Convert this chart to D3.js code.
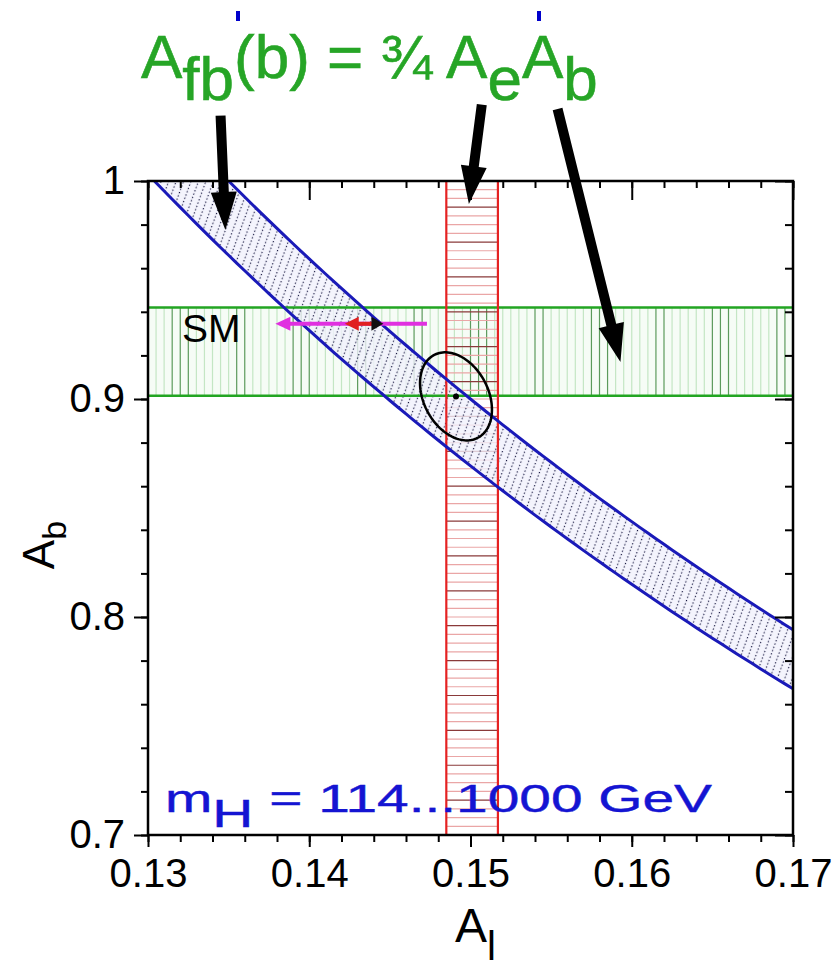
<!DOCTYPE html>
<html>
<head>
<meta charset="utf-8">
<style>
body { margin: 0; background: #fff; }
svg { display: block; font-family: "Liberation Sans", Arial, Helvetica, sans-serif; }
</style>
</head>
<body>
<svg width="840" height="974"></svg>
<script src="https://cdn.jsdelivr.net/npm/d3@7/dist/d3.min.js"></script>
<script>
var abBand = [0.9015, 0.942];       // A_b (green band)
var alBand = [0.1485, 0.1517];      // A_l (red band)
var afbBand = [0.0978, 0.10125];    // A_fb(b) = 3/4 A_l A_b (blue band)
var fitCenter = [0.1491, 0.9012];   // combined fit
var fitSigma = [0.00223, 0.0202];
var fitRho = -0.3;
var smAb = 0.9345;                  // SM prediction arrows
var smMagenta = [0.1473, 0.1379];
var smRed = [0.1443, 0.1422];
var smBlackTip = 0.1446;

var xMajor = [0.13, 0.14, 0.15, 0.16, 0.17];
var xLabels = ["0.13", "0.14", "0.15", "0.16", "0.17"];
var yMajor = [0.7, 0.8, 0.9, 1.0];
var yLabels = ["0.7", "0.8", "0.9", "1"];

// annotation arrows from the title down into the plot (data units)
var pointers = [
  {from: [0.1345, 1.030], to: [0.1348, 0.9775]},
  {from: [0.1507, 1.035], to: [0.1499, 0.9894]},
  {from: [0.1554, 1.033], to: [0.1593, 0.9170]}
];

var pL = 148, pR = 793, pT = 181, pB = 835;
var x = d3.scaleLinear().domain([0.13, 0.17]).range([pL, pR]);
var y = d3.scaleLinear().domain([0.7, 1.0]).range([pB, pT]);

var svg = d3.select("svg");
var defs = svg.append("defs");
defs.append("clipPath").attr("id", "plot")
  .append("rect").attr("x", pL).attr("y", pT)
  .attr("width", pR - pL).attr("height", pB - pT);

var pat = defs.append("pattern").attr("id", "dots")
  .attr("patternUnits", "userSpaceOnUse")
  .attr("width", 7).attr("height", 7)
  .attr("patternTransform", "rotate(20)");
pat.append("line").attr("x1", 3.5).attr("y1", 0).attr("x2", 3.5).attr("y2", 7)
  .attr("stroke", "#10103a").attr("stroke-width", 1.2)
  .attr("stroke-dasharray", "1.2 2.3");

var g = svg.append("g").attr("clip-path", "url(#plot)");

// green band: A_b
g.append("rect")
  .attr("x", pL).attr("width", pR - pL)
  .attr("y", y(abBand[1])).attr("height", y(abBand[0]) - y(abBand[1]))
  .attr("fill", "#f6fcf6");
var greenHatch = d3.range(0.13, 0.1701, 0.0005);
g.selectAll(".gh").data(greenHatch).enter().append("line")
  .attr("x1", function(d){ return x(d); }).attr("x2", function(d){ return x(d); })
  .attr("y1", y(abBand[1])).attr("y2", y(abBand[0]))
  .attr("stroke", function(d){
    var m = (x(d) - pL) % 60;
    return (m > 22 && m < 42) ? "#5c9a5c" : "#c4e6c4";
  })
  .attr("stroke-width", 1.2);

// red band: A_l
var redHatch = d3.range(0.7, 1.0001, 0.004);
g.selectAll(".rh").data(redHatch).enter().append("line")
  .attr("x1", x(alBand[0])).attr("x2", x(alBand[1]))
  .attr("y1", function(d){ return y(d); }).attr("y2", function(d){ return y(d); })
  .attr("stroke", function(d, i){ return i % 4 === 0 ? "#8a3a3a" : "#eaa6a6"; })
  .attr("stroke-width", 1.2);

// blue band: A_fb(b)
var alGrid = d3.range(0.1295, 0.1706, 0.0005);
function abOf(afb, al) { return afb / (0.75 * al); }
var area = d3.area()
  .x(function(d){ return x(d); })
  .y0(function(d){ return y(abOf(afbBand[0], d)); })
  .y1(function(d){ return y(abOf(afbBand[1], d)); });
g.append("path").datum(alGrid).attr("d", area).attr("fill", "#f1f1fd").attr("fill-opacity", 0.8);
g.append("path").datum(alGrid).attr("d", area).attr("fill", "url(#dots)");

// green band edges
abBand.forEach(function(v){
  g.append("line").attr("x1", pL).attr("x2", pR)
    .attr("y1", y(v)).attr("y2", y(v))
    .attr("stroke", "#22a522").attr("stroke-width", 2.5);
});
// red band edges
alBand.forEach(function(v){
  g.append("line").attr("x1", x(v)).attr("x2", x(v))
    .attr("y1", pT).attr("y2", pB)
    .attr("stroke", "#e52222").attr("stroke-width", 2.2);
});
// blue band edges
afbBand.forEach(function(afb){
  g.append("path").datum(alGrid)
    .attr("d", d3.line().x(function(d){ return x(d); }).y(function(d){ return y(abOf(afb, d)); }))
    .attr("fill", "none").attr("stroke", "#1a1ab8").attr("stroke-width", 3);
});

// SM prediction arrows
function headPts(tipX, tipY, dir, len, half) {
  return [[tipX, tipY], [tipX - dir * len, tipY - half], [tipX - dir * len, tipY + half]];
}
var sy = y(smAb);
g.append("line").attr("x1", x(smMagenta[0])).attr("x2", x(smMagenta[1]) + 10)
  .attr("y1", sy).attr("y2", sy).attr("stroke", "#e030e0").attr("stroke-width", 4);
g.append("polygon").attr("points", headPts(x(smMagenta[1]), sy, -1, 15, 7).join(" "))
  .attr("fill", "#e030e0");
g.append("line").attr("x1", x(smRed[0])).attr("x2", x(smRed[1]) + 8)
  .attr("y1", sy).attr("y2", sy).attr("stroke", "#e02020").attr("stroke-width", 4);
g.append("polygon").attr("points", headPts(x(smRed[1]), sy, -1, 14, 7).join(" "))
  .attr("fill", "#e02020");
g.append("polygon").attr("points", headPts(x(smBlackTip), sy, 1, 12, 7).join(" "))
  .attr("fill", "#111");

// fit ellipse
var ts = d3.range(0, 2 * Math.PI + 0.01, 0.05);
var ell = ts.map(function(t){
  var ax = fitCenter[0] + fitSigma[0] * Math.cos(t);
  var ay = fitCenter[1] + fitSigma[1] * (fitRho * Math.cos(t) + Math.sqrt(1 - fitRho * fitRho) * Math.sin(t));
  return [x(ax), y(ay)];
});
g.append("path").attr("d", d3.line()(ell) + "Z")
  .attr("fill", "none").attr("stroke", "#000").attr("stroke-width", 2.5);
g.append("circle").attr("cx", x(fitCenter[0])).attr("cy", y(fitCenter[1])).attr("r", 3).attr("fill", "#000");

// axes
function styleAxis(sel) {
  sel.select(".domain").remove();
  sel.selectAll("line").attr("stroke", "#000").attr("stroke-width", 2);
  sel.attr("font-size", 40).attr("font-family", null);
  sel.selectAll("text").attr("fill", "#000");
}
var xMinor = d3.range(0.13, 0.1701, 0.002);
var yMinor = d3.range(0.7, 1.0001, 0.02);

svg.append("g").attr("transform", "translate(0," + pB + ")")
  .call(d3.axisBottom(x).tickValues(xMinor).tickSize(7).tickFormat("")).call(styleAxis);
svg.append("g").attr("transform", "translate(0," + pB + ")")
  .call(d3.axisBottom(x).tickValues(xMajor).tickSize(12).tickPadding(12)
    .tickFormat(function(d, i){ return xLabels[i]; })).call(styleAxis);
svg.append("g").attr("transform", "translate(0," + pT + ")")
  .call(d3.axisTop(x).tickValues(xMinor).tickSize(-7).tickFormat("")).call(styleAxis);
svg.append("g").attr("transform", "translate(0," + pT + ")")
  .call(d3.axisTop(x).tickValues(xMajor).tickSize(-19).tickFormat("")).call(styleAxis);

svg.append("g").attr("transform", "translate(" + pL + ",0)")
  .call(d3.axisLeft(y).tickValues(yMinor).tickSize(7).tickFormat("")).call(styleAxis);
svg.append("g").attr("transform", "translate(" + pL + ",0)")
  .call(d3.axisLeft(y).tickValues(yMajor).tickSize(14).tickPadding(9)
    .tickFormat(function(d, i){ return yLabels[i]; })).call(styleAxis);
svg.append("g").attr("transform", "translate(" + pR + ",0)")
  .call(d3.axisRight(y).tickValues(yMinor).tickSize(-8).tickFormat("")).call(styleAxis);
svg.append("g").attr("transform", "translate(" + pR + ",0)")
  .call(d3.axisRight(y).tickValues(yMajor).tickSize(-18).tickFormat("")).call(styleAxis);

svg.append("rect").attr("x", pL).attr("y", pT)
  .attr("width", pR - pL).attr("height", pB - pT)
  .attr("fill", "none").attr("stroke", "#000").attr("stroke-width", 2.5);

// pointer arrows
pointers.forEach(function(p){
  var x0 = x(p.from[0]), y0 = y(p.from[1]), x1 = x(p.to[0]), y1 = y(p.to[1]);
  var dx = x1 - x0, dy = y1 - y0, L = Math.sqrt(dx * dx + dy * dy);
  var ux = dx / L, uy = dy / L, nx = -uy, ny = ux;
  var hl = 38, hw = 13, sw = 5;
  var bx = x1 - ux * hl, by = y1 - uy * hl;
  var pts = [
    [x0 + nx * sw, y0 + ny * sw], [bx + nx * sw, by + ny * sw], [bx + nx * hw, by + ny * hw],
    [x1, y1],
    [bx - nx * hw, by - ny * hw], [bx - nx * sw, by - ny * sw], [x0 - nx * sw, y0 - ny * sw]
  ];
  svg.append("polygon").attr("points", pts.join(" ")).attr("fill", "#000");
});

// title
var title = svg.append("text").attr("x", 141).attr("y", 78)
  .attr("font-size", 62).attr("fill", "#26a526")
  .attr("stroke", "#26a526").attr("stroke-width", 0.6);
title.append("tspan").text("A");
title.append("tspan").attr("dy", 22).text("fb");
title.append("tspan").attr("dy", -22).text("(b) = \u00BE A");
title.append("tspan").attr("dy", 22).text("e");
title.append("tspan").attr("dy", -22).text("A");
title.append("tspan").attr("dy", 22).text("b");
svg.append("rect").attr("x", 236).attr("y", 11).attr("width", 4).attr("height", 10).attr("fill", "#0000cc");
svg.append("rect").attr("x", 537).attr("y", 11).attr("width", 4).attr("height", 10).attr("fill", "#0000cc");

// SM label
svg.append("text").attr("x", 182).attr("y", 342).attr("font-size", 39).attr("fill", "#000").text("SM");

// m_H label
var mh = svg.append("text").attr("x", 165).attr("y", 812)
  .attr("font-size", 38).attr("fill", "#1414d2")
  .attr("stroke", "#1414d2").attr("stroke-width", 0.4)
  .attr("textLength", 547).attr("lengthAdjust", "spacingAndGlyphs");
mh.append("tspan").text("m");
mh.append("tspan").attr("dy", 15).text("H");
mh.append("tspan").attr("dy", -15).text(" = 114...1000 GeV");

// axis titles
var yl = svg.append("text").attr("transform", "translate(54,545) rotate(-90)")
  .attr("text-anchor", "middle").attr("font-size", 44).attr("fill", "#000");
yl.append("tspan").text("A");
yl.append("tspan").attr("dy", 12).attr("font-size", 34).text("b");

var xl = svg.append("text").attr("x", 455).attr("y", 942)
  .attr("font-size", 48).attr("fill", "#000");
xl.append("tspan").text("A");
xl.append("tspan").attr("dy", 18).attr("font-size", 40).text("l");
</script>
</body>
</html>
